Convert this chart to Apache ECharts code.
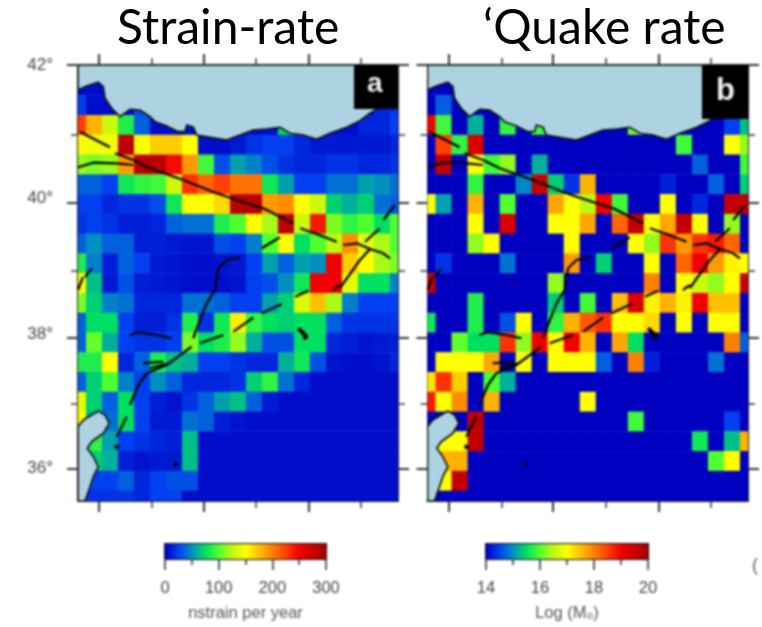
<!DOCTYPE html>
<html><head><meta charset="utf-8">
<style>
html,body{margin:0;padding:0;background:#fff;width:762px;height:627px;overflow:hidden}
#main,#head{position:absolute;left:0;top:0;width:762px;height:627px}
#main{filter:blur(0.9px)}
#head{pointer-events:none}
</style>
<script src="https://cdn.jsdelivr.net/npm/echarts@6/dist/echarts.min.js"></script>
</head><body><div id="main"></div><div id="head"></div>
<script>
// ---- Strain-rate grid, nstrain per year, rows north to south, columns west to east
const strainRows = [
/*r1*/ [5,5,5,5,5,5,5,5,5,5,5,5,5,5,5,5,5,5,5,5,5],
/*r2*/ [25,5,5,5,30,5,5,5,5,5,5,5,5,5,5,5,5,5,5,15,20],
/*r3*/ [225,180,130,85,35,5,5,5,5,5,5,5,5,75,5,5,5,5,15,15,25],
/*r4*/ [145,145,145,285,150,170,170,150,5,5,10,20,25,25,15,10,10,10,10,10,15],
/*r5*/ [115,110,115,190,285,285,245,190,95,30,55,45,30,20,15,15,20,20,15,15,20],
/*r6*/ [35,35,25,80,90,95,130,230,210,225,205,205,80,55,25,25,40,40,55,50,40],
/*r7*/ [25,25,15,20,20,30,80,150,150,165,285,285,190,195,150,130,70,60,70,40,35],
/*r8*/ [20,25,20,12,12,15,35,40,40,85,100,150,120,285,130,240,110,90,100,75,100],
/*r9*/ [35,50,35,35,12,12,10,8,8,30,25,45,100,150,75,100,125,195,140,120,100],
/*r10*/[85,45,12,35,25,10,8,5,5,8,10,25,55,35,55,50,250,170,150,120,110],
/*r11*/[150,65,10,30,12,10,8,5,5,5,8,25,30,50,80,250,250,140,75,75,45],
/*r12*/[110,70,45,40,15,15,15,40,40,35,25,25,55,70,135,175,120,45,25,25,25],
/*r13*/[35,75,75,25,12,12,20,85,20,80,155,90,75,70,75,75,35,20,20,20,20],
/*r14*/[35,105,60,25,20,20,25,110,75,85,115,60,30,30,75,75,15,12,8,10,12],
/*r15*/[85,85,150,15,35,85,65,60,25,25,20,15,15,60,80,30,8,5,5,8,15],
/*r16*/[35,70,100,45,25,50,35,15,15,15,20,70,90,40,15,5,5,5,5,5,5],
/*r17*/[140,70,35,75,25,12,8,20,35,55,65,35,10,5,5,5,5,5,5,5,5],
/*r18*/[150,60,40,75,25,10,10,40,35,12,8,5,5,5,5,5,5,5,5,5,5],
/*r19*/[60,90,55,25,20,15,12,65,5,5,5,5,5,5,5,5,5,5,5,5,5],
/*r20*/[60,70,60,12,8,10,10,65,5,5,5,5,5,5,5,5,5,5,5,5,5],
/*r21*/[25,25,25,35,15,25,30,30,5,5,5,5,5,5,5,5,5,5,5,5,5],
/*r22*/[20,20,20,20,15,25,25,5,5,5,5,5,5,5,5,5,5,5,5,5,5]
];
// ---- Earthquake moment-rate grid, Log(M0)
const quakeRows = [
/*r1*/ [14,14,14,14,14,14,14,14,14,14,14,14,14,14,14,14,14,14,14,14,14],
/*r2*/ [14,14.7,14,14,14,14,14,14,14,14,14,14,14,14,14,14,14,14,14,14,14],
/*r3*/ [19,15.9,14,15.2,14,15.8,14,15.9,14,14,14,14,14,16.2,14,14,14,14,14,14.5,15.3],
/*r4*/ [14,18.5,15.8,19.3,14,14,14,14,14,14,14,14,14,14,14,14,15.9,14,14,17,16.3],
/*r5*/ [14,19.6,14,17,15.9,16.3,14,15.2,14,14,14,14,14,14,14,14,14,14.7,14,14,15.9],
/*r6*/ [14,14,14,15.8,14,14,14.95,19.5,15.4,14.4,17.6,14,14,14,14,14.25,14,14,14.7,14,15.4],
/*r7*/ [17,15.1,14,17.6,14,16,14,14,17.7,17,16.5,19,15.9,14,14,17,14,14.3,14,19.6,19.6],
/*r8*/ [14,14,14,17,14,19.3,14,14,17,17,17.7,14,18.2,19.6,17,17.7,19.6,17,14,16.3,14],
/*r9*/ [14,14,14,16.3,17,14,14,14,14,17,14,14,14,17,16.3,18.6,17.8,18.6,18.8,18.2,14],
/*r10*/[14,14.4,14,14,14,14.8,14,14,14,17.8,14,15.4,14,14,17,14,18.2,19,17.8,17.1,17],
/*r11*/[19.5,14,14,14,14,14,14,14,16.3,14,14,14,14,14,18,14,17,16.6,16.3,17,19.5],
/*r12*/[14,14,14,15.7,14,14,14,14,15.4,14,15.9,14,17.5,19.3,17.1,17.6,17.1,19,17.5,17.5,14],
/*r13*/[15.6,14,14,15.7,14,14.6,17,14,15.8,17.6,18.3,18.6,17,17,17.3,14,17,14,17,17,14],
/*r14*/[14,14,16.1,15.5,15.5,18.6,16.3,19,17,19,17.6,14,17.7,15.5,14,14,14,14,14,18,14.7],
/*r15*/[14,17,17,17,17.7,14,17,14,17,17,17,14.7,14,18,14.25,14,14,14,14.8,14,14],
/*r16*/[17.2,18.6,17.4,14,16,15.2,14,14,14,14,14,14,14,14,14,14,14,14,14,14,14],
/*r17*/[18.8,17,17.9,14,17.6,14,14,14,14,14,17,14,14,14,14,14,14,14,14,14,14],
/*r18*/[14,14,14,19.6,14,14,14,14,14,14,14,14,14,15.9,14,14,14,14,14,14.5,14],
/*r19*/[14,17,17,19.6,14,14,14,14,14,14,14,14,14,14,14,14,14,15.6,14,15.3,17.6],
/*r20*/[14,17.6,17.6,14,14,14,14,14,14,14,14,14,14,14,14,14,14,14,16,17,14],
/*r21*/[14,17,19.6,14,14,14,14,14,14,14,14,14,14,14,14,14,14,14,14,14,14],
/*r22*/[14,14,14,14,14,14,14,14,14,14,14,14,14,14,14,14,14,14,14,14,14]
];
// ---- Axis ticks (map units along each panel's frame)
const lonMajor = [21, 125.3, 231], lonMinor = [74, 178, 283];
const latMajor = [0, 137.7, 272.7, 403.7], latMinor = [69.6, 205.7, 339];
const latLabels = [[0,'42°'],[133,'40°'],[269,'38°'],[403,'36°']];
const strainTicks = {min:0,max:300,interval:100,name:'nstrain per year'};
const quakeTicks = {min:14,max:20,interval:2,name:'Log (M₀)'};
const palette = ['#0000c0','#0040f0','#0090c0','#00e060','#50ff30','#c0f810','#ffff00','#ffc000','#ff8000','#ff4000','#f00000','#c80000','#a80000'];
// ---- Coastlines (map units)
const blackSea = [[0,25],[8.7,21],[20.3,17.3],[25.3,21.7],[27,33.3],[33.7,43.3],[42,51.7],[52,44.3],[62,45],[72,51.7],[77,56.7],[88.7,61],[100.3,66.7],[107,66.7],[108.7,60],[115.3,62.3],[118.7,70],[132,72.3],[148.7,75],[162,70],[175.3,65],[188.7,64],[202,62.3],[212,68.3],[225.3,70],[238.7,74.3],[252,68.3],[268.7,62.3],[282,55.7],[292,48.3],[300.3,43.3],[320,42],[320,0],[0,0]];
const medSea = [[0,361.7],[5.3,355],[20.3,346],[27,350],[31.3,358.3],[25.3,368.3],[13.7,376.7],[9.3,383.3],[15.3,391.7],[20.3,401.7],[15.3,411.7],[12,421.7],[7,436],[0,436]];
// ---- Fault traces (map units), null breaks the line
const faults = [
[2,66.7],[32,82.3],null,
[37,88.3],[55.3,95],[72,103.3],[105.3,115],[138.7,128.3],[168.7,138.3],[185.3,143.3],[215.3,158.3],null,
[222,163.3],[238.7,169],[258.7,176.7],null,
[265.3,180],[278.7,178.3],[292,184],[305.3,188.3],[312,193.3],null,
[0,102.3],[15.3,97.7],[38.7,98.3],[55.3,100],null,
[292,184],[282,195],[265.3,218.3],[262,223],null,
[262,220],[255,225],null,[230.3,225.7],[217,231.7],null,[203.7,239],[183.7,248.3],null,[175.3,252.7],[155.3,266.7],null,
[145.3,270],[122,278.3],null,[113.7,281.7],[88.7,300],[68.7,308.3],[60.3,320],[52,340],null,[48.7,351.7],[38.7,371.7],null,
[317,140],[305.3,155],null,[302,163.3],[287,176.7],null,[202,172.3],[183.7,183.3],null,[162,192.3],[148.7,195],[140.3,203.3],[137,225],[128.7,238.3],[117,268.3],[115.3,273.3],null,
[52,270],[60.3,267.3],[78.7,270],[93.7,273.3],null,
[65,298.3],[85,296.7],null,[72,303.3],[92,298],null,
[13.7,203.3],[7,212],null,[5,212],[0,225]
];
const faultBlobs = [[220.3,263.3],[228.7,271.7],[225.3,273.3],null,[96,398],[99,400],null,[37,381],[41,383]];

const CELL_W = 16, CELL_H = 19.77, MAP_W = 320, MAP_H = 436;
const ROW_TOP = 50, COL_LEFT = -8;   // map position of the grid origin cell (row 3, col 0)

function cellData(rows){
  const out=[];
  rows.forEach((row,i)=>row.forEach((v,c)=>out.push([COL_LEFT+c*CELL_W, ROW_TOP+(i-2)*CELL_H, v])));
  return out;
}
function breakLine(pts){return pts.map(p=>p===null?['-','-']:p);}
function renderCell(params,api){
  const a=api.coord([api.value(0),api.value(1)]);
  const b=api.coord([api.value(0)+CELL_W,api.value(1)+CELL_H]);
  const rect=echarts.graphic.clipRectByRect(
    {x:a[0],y:a[1],width:b[0]-a[0]+0.4,height:b[1]-a[1]+0.4},
    {x:params.coordSys.x,y:params.coordSys.y,width:params.coordSys.width,height:params.coordSys.height});
  return rect&&{type:'rect',shape:rect,style:{fill:api.visual('color')}};
}
function renderSea(params,api){
  const poly=[blackSea,medSea][api.value(0)];
  return {type:'polygon',shape:{points:poly.map(p=>api.coord(p))},
    style:{fill:'#add3e2',stroke:'#111',lineWidth:1.7}};
}
const grids=[],xAxes=[],yAxes=[],series=[],visualMaps=[];
function tickAxis(kind,pos,gi,cfg,ext){
  const a={type:'value',gridIndex:gi,position:pos,min:0,max:kind==='x'?MAP_W:MAP_H,inverse:kind==='y',
    splitLine:{show:false},
    axisLine:{show:true,onZero:false,lineStyle:{color:'#222',width:2}},
    axisTick:{show:true,length:cfg.len,customValues:cfg.vals,lineStyle:{color:'#333',width:cfg.w}},
    axisLabel:{show:false}};
  return Object.assign(a,ext||{});
}
function panel(left,width,rows,min,max,withLabels){
  const g=grids.length;
  const rect={left:left,top:65,width:width,height:MAP_H,containLabel:false};
  grids.push(rect,Object.assign({},rect));
  [[g,{vals:lonMajor,len:11,w:2}],[g+1,{vals:lonMinor,len:7,w:1.5}]].forEach(([gi,c])=>{
    xAxes.push(tickAxis('x','bottom',gi,c),tickAxis('x','top',gi,c));
  });
  [[g,{vals:latMajor,len:11,w:2}],[g+1,{vals:latMinor,len:7,w:1.5}]].forEach(([gi,c],k)=>{
    const ext=(k===0&&withLabels)?{axisLabel:{show:true,customValues:latLabels.map(d=>d[0]),margin:25,
      fontFamily:'Liberation Sans',fontSize:17,color:'#444',
      formatter:v=>{const f=latLabels.find(d=>Math.abs(d[0]-v)<0.01);return f?f[1]:'';}}}:{};
    yAxes.push(tickAxis('y','left',gi,c,ext),tickAxis('y','right',gi,c));
  });
  const ax=xAxes.length-4, ay=yAxes.length-4;
  visualMaps.push({show:false,seriesIndex:series.length,dimension:2,min:min,max:max,inRange:{color:palette}});
  series.push({type:'custom',xAxisIndex:ax,yAxisIndex:ay,renderItem:renderCell,data:cellData(rows),
    encode:{x:0,y:1},z:2,silent:true,animation:false});
  series.push({type:'custom',xAxisIndex:ax,yAxisIndex:ay,renderItem:renderSea,data:[[0,0],[1,0]],
    encode:{x:1,y:1},z:3,clip:true,silent:true,animation:false});
  series.push({type:'line',xAxisIndex:ax,yAxisIndex:ay,data:breakLine(faults),showSymbol:false,symbol:'none',connectNulls:false,
    lineStyle:{color:'#000',width:2.2},z:4,silent:true,animation:false,clip:true});
  series.push({type:'line',xAxisIndex:ax,yAxisIndex:ay,data:breakLine(faultBlobs),showSymbol:false,symbol:'none',connectNulls:false,
    lineStyle:{color:'#000',width:4},z:4,silent:true,animation:false,clip:true});
}
function colorbar(left,width,t){
  const gi=grids.length;
  grids.push({left:left,top:544,width:width,height:15,show:true,backgroundColor:'transparent',borderColor:'#111',borderWidth:2});
  xAxes.push({type:'value',gridIndex:gi,position:'bottom',min:t.min,max:t.max,interval:t.interval,
    name:t.name,nameLocation:'middle',nameGap:46,
    nameTextStyle:{fontFamily:'Liberation Sans',fontSize:16.5,color:'#555'},
    splitLine:{show:false},
    axisLine:{show:true,lineStyle:{color:'#111',width:2}},
    axisTick:{show:true,length:11,lineStyle:{color:'#333',width:1.6}},
    minorTick:{show:true,splitNumber:2,length:6,lineStyle:{color:'#333',width:1.6}},
    minorSplitLine:{show:false},
    axisLabel:{show:true,margin:21,fontFamily:'Liberation Sans',fontSize:16.5,color:'#444',showMinLabel:true,showMaxLabel:true}});
  yAxes.push({type:'value',gridIndex:gi,min:0,max:1,show:false});
  const stops=palette.map((c,i)=>({offset:i/(palette.length-1),color:c}));
  series.push({type:'custom',xAxisIndex:xAxes.length-1,yAxisIndex:yAxes.length-1,silent:true,animation:false,z:2,
    data:[[t.min,t.max]],encode:{x:[0,1]},
    renderItem:(p,api)=>{
      const a=api.coord([api.value(0),1]),b=api.coord([api.value(1),0]);
      return {type:'rect',shape:{x:a[0],y:a[1],width:b[0]-a[0],height:b[1]-a[1]},
        style:{fill:new echarts.graphic.LinearGradient(0,0,1,0,stops)}};
    }});
}
panel(78,320,strainRows,0,300,true);
panel(427.5,320.5,quakeRows,14,20,false);
colorbar(165,161,strainTicks);
colorbar(486,162,quakeTicks);

const chart=echarts.init(document.getElementById('main'),null,{renderer:'canvas'});
chart.setOption({
  animation:false,backgroundColor:'#fff',
  grid:grids,xAxis:xAxes,yAxis:yAxes,visualMap:visualMaps,series:series,
  graphic:[
    {type:'rect',z:100,shape:{x:354,y:65,width:44,height:44},style:{fill:'#000'}},
    {type:'text',z:101,left:367,top:70,style:{text:'a',fill:'#eee',font:'bold 28px "Liberation Sans"'}},
    {type:'rect',z:100,shape:{x:702,y:65,width:46.5,height:54},style:{fill:'#000'}},
    {type:'text',z:101,left:716,top:76,style:{text:'b',fill:'#eee',font:'bold 31px "Liberation Sans"'}},
    {type:'text',z:101,left:752,top:557,style:{text:'(',fill:'#666',font:'18px "Liberation Sans"'}}
  ]
});
const head=echarts.init(document.getElementById('head'),null,{renderer:'canvas'});
head.setOption({
  backgroundColor:'transparent',
  title:[
    {text:'Strain-rate',left:112,top:0,textStyle:{fontFamily:'Lato',fontWeight:'normal',fontSize:48,color:'#000'}},
    {text:'‘Quake rate',left:478,top:0,textStyle:{fontFamily:'Lato',fontWeight:'normal',fontSize:48,color:'#000'}}
  ]
});
</script></body></html>
